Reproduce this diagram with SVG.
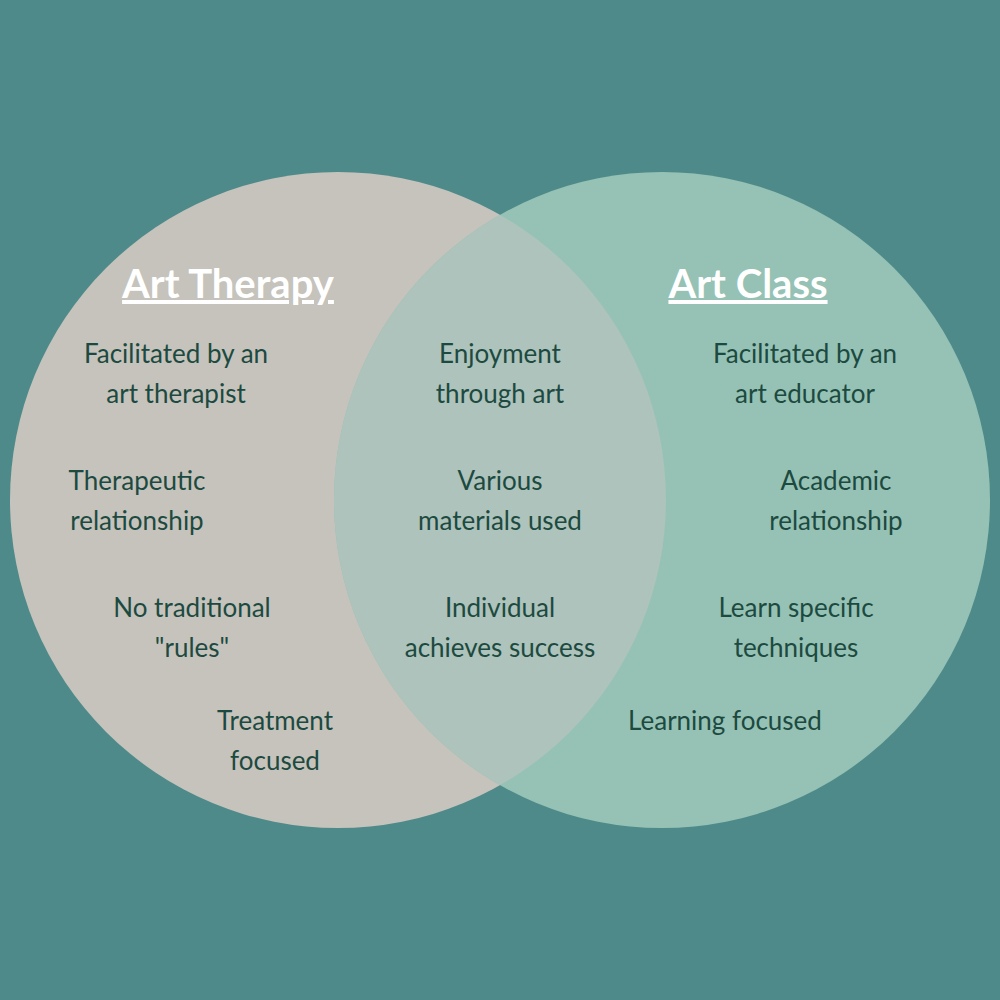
<svg xmlns="http://www.w3.org/2000/svg" width="1000" height="1000" viewBox="0 0 1000 1000">
<style>
.t{font-family:Lato,"Open Sans",sans-serif;font-size:26px;fill:#1d4a40;text-anchor:middle}
.h{font-family:Lato,"Open Sans",sans-serif;font-size:40px;font-weight:bold;fill:#fff;text-anchor:middle;text-decoration:underline}
</style>
<defs><clipPath id="cl"><circle cx="338" cy="500" r="328"/></clipPath></defs>
<rect width="1000" height="1000" fill="#4e8a89"/>
<g id="left"><circle cx="338" cy="500" r="328" fill="#c5c3bc"/></g>
<g id="right"><circle cx="662" cy="500" r="328" fill="#95c2b5"/></g>
<g id="overlap"><circle cx="662" cy="500" r="328" fill="#adc3bb" clip-path="url(#cl)"/></g>
<text class="h" x="228" y="298">Art Therapy</text>
<text class="h" x="748" y="298">Art Class</text>
<g class="t">
<text class="t" x="176" y="363">Facilitated by an</text><text class="t" x="176" y="403">art therapist</text>
<text class="t" x="137" y="490">Therapeutic</text><text class="t" x="137" y="530">relationship</text>
<text class="t" x="192" y="617">No traditional</text><text class="t" x="192" y="657">"rules"</text>
<text class="t" x="275" y="730">Treatment</text><text class="t" x="275" y="770">focused</text>
<text class="t" x="500" y="363">Enjoyment</text><text class="t" x="500" y="403">through art</text>
<text class="t" x="500" y="490">Various</text><text class="t" x="500" y="530">materials used</text>
<text class="t" x="500" y="617">Individual</text><text class="t" x="500" y="657">achieves success</text>
<text class="t" x="805" y="363">Facilitated by an</text><text class="t" x="805" y="403">art educator</text>
<text class="t" x="836" y="490">Academic</text><text class="t" x="836" y="530">relationship</text>
<text class="t" x="796" y="617">Learn specific</text><text class="t" x="796" y="657">techniques</text>
<text class="t" x="725" y="730">Learning focused</text>
</g>
</svg>
